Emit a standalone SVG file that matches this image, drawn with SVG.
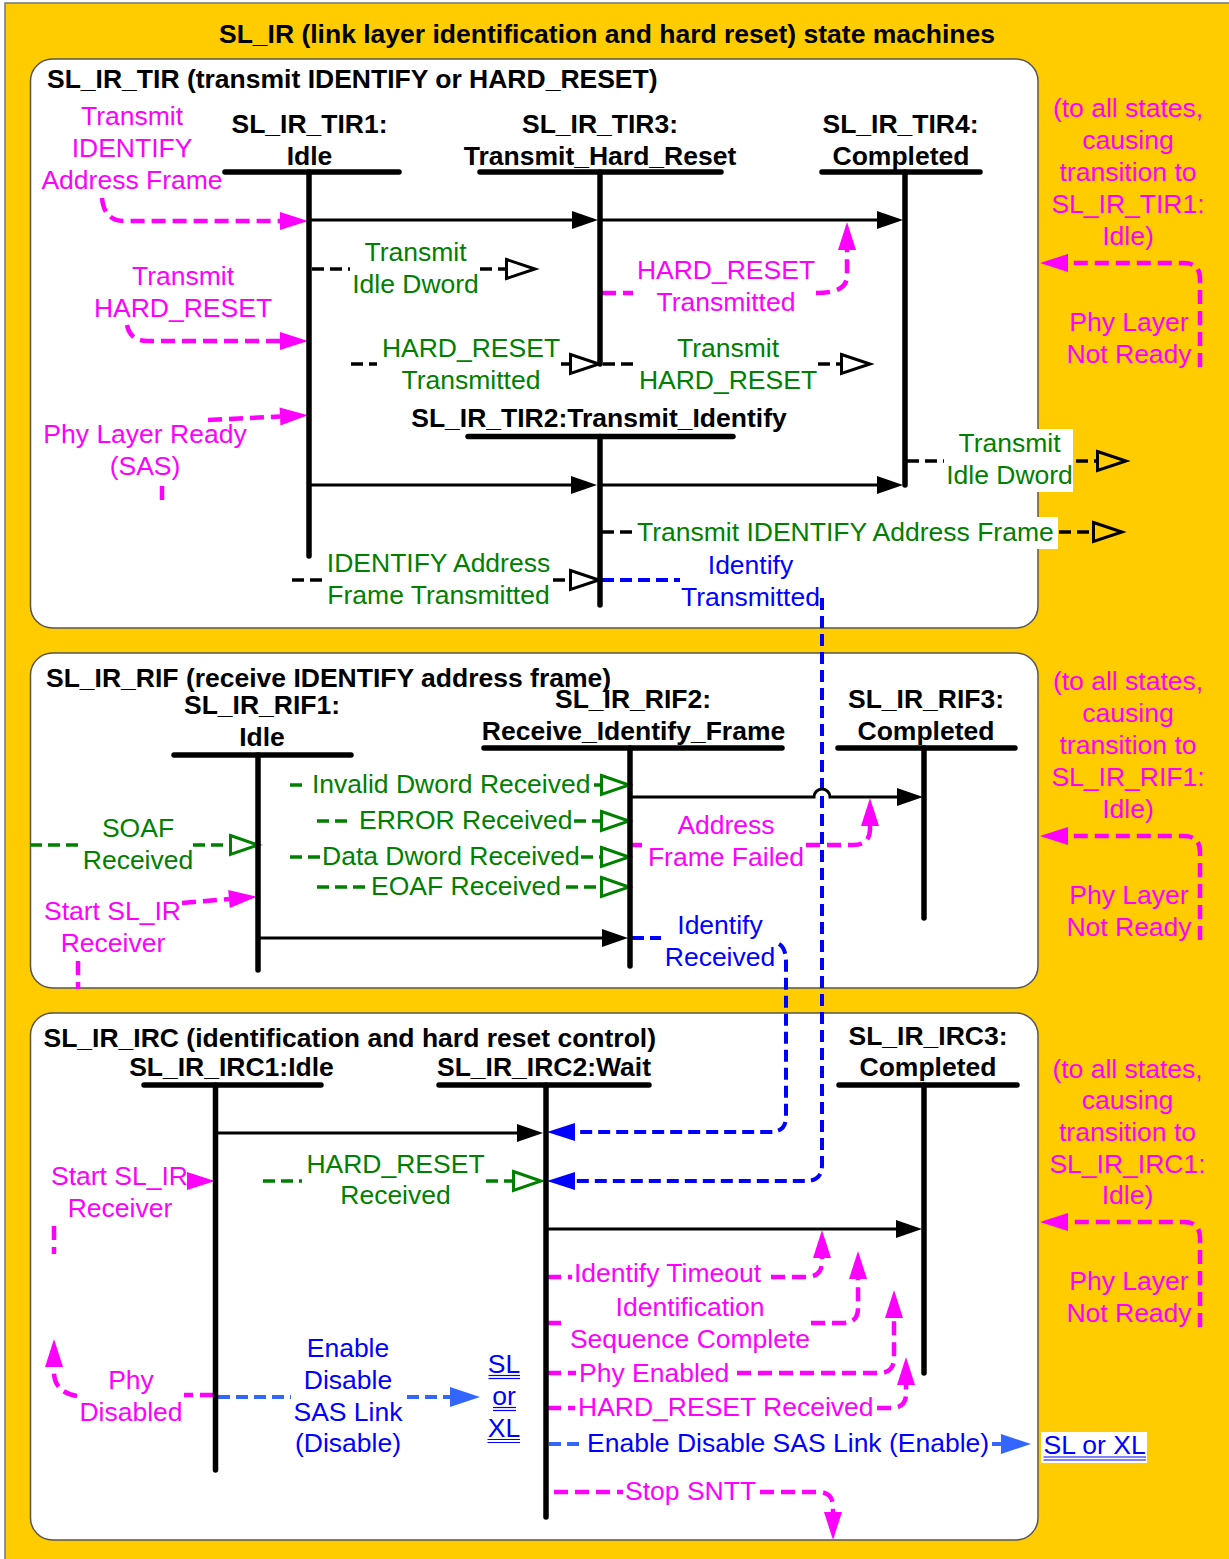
<svg xmlns="http://www.w3.org/2000/svg" width="1229" height="1559" viewBox="0 0 1229 1559">
<defs>
<style>
.t{font-family:"Liberation Sans",Arial,sans-serif;font-size:26.5px}
.b{font-weight:bold;fill:#000}
.m{fill:#FF00FF}
.g{fill:#008000}
.u{fill:#0000FF}
.c{text-anchor:middle}
.bar{stroke:#000;stroke-width:5.5;stroke-linecap:round;fill:none}
.tr{stroke:#000;stroke-width:3;fill:none}
.dm{stroke:#FF00FF;stroke-width:4.5;stroke-dasharray:14 7;fill:none}
.dk{stroke:#000;stroke-width:3.5;stroke-dasharray:12 6;fill:none}
.dg{stroke:#008000;stroke-width:3.5;stroke-dasharray:12 6;fill:none}
.db{stroke:#0000FF;stroke-width:4;stroke-dasharray:12 6;fill:none}
.dl{stroke:#3366FF;stroke-width:4;stroke-dasharray:12 6;fill:none}
.ul{stroke:#0000FF;stroke-width:1.2}
.panel{fill:#fff;stroke:#555;stroke-width:1.5}
</style>
<marker id="aBlk" markerUnits="userSpaceOnUse" markerWidth="30" markerHeight="20" refX="0" refY="9" orient="auto" overflow="visible"><path d="M0,0 L26,9 L0,18 Z" fill="#000"/></marker>
<marker id="aMag" markerUnits="userSpaceOnUse" markerWidth="30" markerHeight="20" refX="0" refY="9" orient="auto" overflow="visible"><path d="M0,0 L28,9 L0,18 Z" fill="#FF00FF"/></marker>
<marker id="aBlu" markerUnits="userSpaceOnUse" markerWidth="30" markerHeight="20" refX="0" refY="9" orient="auto" overflow="visible"><path d="M0,0 L28,9 L0,18 Z" fill="#0000FF"/></marker>
<marker id="aLBlu" markerUnits="userSpaceOnUse" markerWidth="32" markerHeight="22" refX="0" refY="10" orient="auto" overflow="visible"><path d="M0,0 L30,10 L0,20 Z" fill="#3366FF"/></marker>
<marker id="oBlk" markerUnits="userSpaceOnUse" markerWidth="32" markerHeight="22" refX="0" refY="10" orient="auto" overflow="visible"><path d="M1.5,0.5 L30,10 L1.5,19.5 Z" fill="none" stroke="#000" stroke-width="3"/></marker>
<marker id="oGrn" markerUnits="userSpaceOnUse" markerWidth="32" markerHeight="22" refX="0" refY="10" orient="auto" overflow="visible"><path d="M1.5,0.5 L29,10 L1.5,19.5 Z" fill="none" stroke="#008000" stroke-width="3"/></marker>
</defs>

<rect x="5" y="3" width="1230" height="1560" fill="#FFCC00" stroke="#777" stroke-width="1.5"/>
<text class="t b c" x="607" y="43">SL_IR (link layer identification and hard reset) state machines</text>

<g id="panels">
<rect class="panel" x="30.5" y="59" width="1007.5" height="569" rx="22"/>
<rect class="panel" x="30.5" y="653" width="1007.5" height="335" rx="22"/>
<rect class="panel" x="30.5" y="1013" width="1007.5" height="527" rx="22"/>
<text class="t b" x="47" y="88">SL_IR_TIR (transmit IDENTIFY or HARD_RESET)</text>
<text class="t b" x="46" y="687">SL_IR_RIF (receive IDENTIFY address frame)</text>
<text class="t b" x="43.5" y="1047">SL_IR_IRC (identification and hard reset control)</text>
</g>

<g id="connectors">
<!-- TIR transitions -->
<path class="tr" d="M311,220 L572,220" marker-end="url(#aBlk)"/>
<path class="tr" d="M602,220 L877,220" marker-end="url(#aBlk)"/>
<path class="tr" d="M311,485 L571,485" marker-end="url(#aBlk)"/>
<path class="tr" d="M602,485 L877,485" marker-end="url(#aBlk)"/>
<!-- TIR magenta inputs -->
<path class="dm" d="M102,198 Q104,221 125,221 L280,221" marker-end="url(#aMag)"/>
<path class="dm" d="M127,325 Q130,341 148,341 L280,341" marker-end="url(#aMag)"/>
<path class="dm" d="M208,420 L280,416.5" marker-end="url(#aMag)"/>
<path class="dm" d="M162,486 L162,503"/>
<path class="dm" d="M602,293 L633,293 M816,293 Q847,293 847,276 L847,250" marker-end="url(#aMag)"/>
<path class="dm" d="M1200,367 L1200,279 Q1200,263 1184,263 L1068,263" marker-end="url(#aMag)"/>
<!-- TIR outputs -->
<path class="dk" d="M312,269 L350,269 M480,269 L505,269" marker-end="url(#oBlk)"/>
<path class="dk" d="M351,364 L377,364 M561,364 L569,364" marker-end="url(#oBlk)"/>
<path class="dk" d="M603,364 L634,364 M818,364 L840,364" marker-end="url(#oBlk)"/>
<path class="dk" d="M907,461 L944,461 M1076,461 L1096,461" marker-end="url(#oBlk)"/>
<path class="dk" d="M602,532 L633,532 M1059,532 L1092,532" marker-end="url(#oBlk)"/>
<path class="dk" d="M292,580 L325,580 M553,580 L569,580" marker-end="url(#oBlk)"/>
<!-- blue cross-panel -->
<path class="db" d="M602,580 L680,580 M822,598 L822,1165 Q822,1181 806,1181 L575,1181" marker-end="url(#aBlu)"/>
<path class="db" d="M632,938 L661,938 M779,944 Q786,948 786,962 L786,1117 Q786,1132 770,1132 L575,1132" marker-end="url(#aBlu)"/>
<!-- RIF transitions -->
<path class="tr" d="M260,938 L602,938" marker-end="url(#aBlk)"/>
<path class="tr" d="M632,797 L814,797 A8,8 0 0 1 830,797 L897,797" marker-end="url(#aBlk)"/>
<!-- RIF green inputs -->
<path class="dg" d="M30,845 L80,845 M193,845 L229,845" marker-end="url(#oGrn)"/>
<path class="dg" d="M290,785 L303,785 M594,785 L600,785" marker-end="url(#oGrn)"/>
<path class="dg" d="M317,821 L352,821 M574,821 L600,821" marker-end="url(#oGrn)"/>
<path class="dg" d="M290,857 L320,857 M581,857 L600,857" marker-end="url(#oGrn)"/>
<path class="dg" d="M317,887 L367,887 M566,887 L600,887" marker-end="url(#oGrn)"/>
<!-- RIF magenta -->
<path class="dm" d="M182,903 L229,899" marker-end="url(#aMag)"/>
<path class="dm" d="M78,961 L78,989"/>
<path class="dm" d="M632,845 L642,845 M806,845 L853,845 Q870,845 870,829 L870,826" marker-end="url(#aMag)"/>
<path class="dm" d="M1200,940 L1200,852 Q1200,836 1184,836 L1068,836" marker-end="url(#aMag)"/>
<!-- IRC transitions -->
<path class="tr" d="M217,1133 L517,1133" marker-end="url(#aBlk)"/>
<path class="tr" d="M548,1229 L896,1229" marker-end="url(#aBlk)"/>
<path class="dg" d="M263,1181 L302,1181 M486,1181 L512,1181" marker-end="url(#oGrn)"/>
<!-- IRC magenta -->
<path d="M185,1181 L187,1181" stroke="none" fill="none" marker-end="url(#aMag)"/>
<path class="dm" d="M54,1226 L54,1254"/>
<path class="dm" d="M214,1395 L184,1395 M77,1396 Q54,1392 54,1372 L54,1367" marker-end="url(#aMag)"/>
<path class="dm" d="M547,1277 L572,1277 M771,1277 L806,1277 Q822,1277 822,1262 L822,1258" marker-end="url(#aMag)"/>
<path class="dm" d="M547,1323 L568,1323 M811,1323 L843,1323 Q858,1323 858,1308 L858,1279" marker-end="url(#aMag)"/>
<path class="dm" d="M547,1373 L576,1373 M737,1373 L879,1373 Q894,1373 894,1358 L894,1318" marker-end="url(#aMag)"/>
<path class="dm" d="M547,1408 L575,1408 M877,1408 L891,1408 Q906,1408 906,1394 L906,1385" marker-end="url(#aMag)"/>
<path class="dm" d="M554,1492 L623,1492 M760,1492 L818,1492 Q833,1492 833,1507 L833,1512" marker-end="url(#aMag)"/>
<path class="dm" d="M1200,1327 L1200,1238 Q1200,1222 1184,1222 L1068,1222" marker-end="url(#aMag)"/>
<!-- IRC light blue -->
<path class="dl" d="M218,1397 L291,1397 M407,1397 L450,1397" marker-end="url(#aLBlu)"/>
<path class="dl" d="M549,1444 L584,1444 M992,1444 L1001,1444" marker-end="url(#aLBlu)"/>
</g>

<g id="TIR1">
<line class="bar" x1="225" y1="172" x2="399" y2="172"/>
<line class="bar" x1="309" y1="172" x2="309" y2="556"/>
<text class="t b c" x="309.5" y="133">SL_IR_TIR1:</text>
<text class="t b c" x="309.5" y="165">Idle</text>
</g>
<g id="TIR3">
<line class="bar" x1="480" y1="172" x2="721" y2="172"/>
<line class="bar" x1="600" y1="172" x2="600" y2="364"/>
<text class="t b c" x="600" y="133">SL_IR_TIR3:</text>
<text class="t b c" x="600" y="165">Transmit_Hard_Reset</text>
</g>
<g id="TIR4">
<line class="bar" x1="822" y1="172" x2="980" y2="172"/>
<line class="bar" x1="905" y1="172" x2="905" y2="485"/>
<text class="t b c" x="900.5" y="133">SL_IR_TIR4:</text>
<text class="t b c" x="901" y="165">Completed</text>
</g>
<g id="TIR2">
<line class="bar" x1="468" y1="436.5" x2="733" y2="436.5"/>
<line class="bar" x1="600" y1="436.5" x2="600" y2="605"/>
<text class="t b c" x="599" y="427">SL_IR_TIR2:Transmit_Identify</text>
</g>

<g id="RIF1">
<line class="bar" x1="174" y1="755" x2="351" y2="755"/>
<line class="bar" x1="258" y1="755" x2="258" y2="970"/>
<text class="t b c" x="262" y="714">SL_IR_RIF1:</text>
<text class="t b c" x="262" y="746">Idle</text>
</g>
<g id="RIF2">
<line class="bar" x1="484" y1="748" x2="782" y2="748"/>
<line class="bar" x1="630" y1="748" x2="630" y2="966"/>
<text class="t b c" x="633" y="708">SL_IR_RIF2:</text>
<text class="t b c" x="633.5" y="740">Receive_Identify_Frame</text>
</g>
<g id="RIF3">
<line class="bar" x1="838" y1="748" x2="1015" y2="748"/>
<line class="bar" x1="924" y1="748" x2="924" y2="918"/>
<text class="t b c" x="926" y="708">SL_IR_RIF3:</text>
<text class="t b c" x="926" y="740">Completed</text>
</g>

<g id="IRC1">
<line class="bar" x1="144" y1="1085" x2="321" y2="1085"/>
<line class="bar" x1="215.5" y1="1085" x2="215.5" y2="1470"/>
<text class="t b c" x="231.5" y="1076">SL_IR_IRC1:Idle</text>
</g>
<g id="IRC2">
<line class="bar" x1="439" y1="1085" x2="649" y2="1085"/>
<line class="bar" x1="546" y1="1085" x2="546" y2="1517"/>
<text class="t b c" x="544" y="1076">SL_IR_IRC2:Wait</text>
</g>
<g id="IRC3">
<line class="bar" x1="839" y1="1085" x2="1017" y2="1085"/>
<line class="bar" x1="924" y1="1085" x2="924" y2="1373"/>
<text class="t b c" x="928" y="1045">SL_IR_IRC3:</text>
<text class="t b c" x="928" y="1076">Completed</text>
</g>

<g id="labels">
<!-- TIR -->
<text class="t m c" x="132" y="125">Transmit</text>
<text class="t m c" x="132" y="157">IDENTIFY</text>
<text class="t m c" x="132" y="189">Address Frame</text>
<text class="t m c" x="183" y="285">Transmit</text>
<text class="t m c" x="183" y="317">HARD_RESET</text>
<text class="t m c" x="145" y="443">Phy Layer Ready</text>
<text class="t m c" x="145" y="475">(SAS)</text>
<text class="t g c" x="415.5" y="261">Transmit</text>
<text class="t g c" x="415.5" y="293">Idle Dword</text>
<text class="t g c" x="471" y="357">HARD_RESET</text>
<text class="t g c" x="471" y="389">Transmitted</text>
<text class="t g c" x="728" y="357">Transmit</text>
<text class="t g c" x="728" y="389">HARD_RESET</text>
<text class="t m c" x="726" y="279">HARD_RESET</text>
<text class="t m c" x="726" y="311">Transmitted</text>
<rect x="945" y="429" width="128" height="63" fill="#fff"/>
<text class="t g c" x="1009.5" y="452">Transmit</text>
<text class="t g c" x="1009.5" y="484">Idle Dword</text>
<rect x="635" y="517" width="423" height="32" fill="#fff"/>
<text class="t g" x="637" y="541">Transmit IDENTIFY Address Frame</text>
<text class="t g c" x="438.5" y="572">IDENTIFY Address</text>
<text class="t g c" x="438.5" y="604">Frame Transmitted</text>
<text class="t u c" x="750.5" y="574">Identify</text>
<text class="t u c" x="750.5" y="606">Transmitted</text>
<text class="t m c" x="1128" y="117">(to all states,</text>
<text class="t m c" x="1128" y="149">causing</text>
<text class="t m c" x="1128" y="181">transition to</text>
<text class="t m c" x="1128" y="213">SL_IR_TIR1:</text>
<text class="t m c" x="1128" y="245">Idle)</text>
<text class="t m c" x="1129" y="331">Phy Layer</text>
<text class="t m c" x="1129" y="363">Not Ready</text>
<!-- RIF -->
<text class="t g" x="312" y="793">Invalid Dword Received</text>
<text class="t g" x="359" y="829">ERROR Received</text>
<text class="t g" x="322" y="865">Data Dword Received</text>
<text class="t g" x="371" y="895">EOAF Received</text>
<text class="t g c" x="138" y="837">SOAF</text>
<text class="t g c" x="138" y="869">Received</text>
<text class="t m" x="44" y="920">Start SL_IR</text>
<text class="t m c" x="113" y="952">Receiver</text>
<text class="t m c" x="726" y="834">Address</text>
<text class="t m c" x="726" y="866">Frame Failed</text>
<text class="t u c" x="720" y="934">Identify</text>
<text class="t u c" x="720" y="966">Received</text>
<text class="t m c" x="1128" y="690">(to all states,</text>
<text class="t m c" x="1128" y="722">causing</text>
<text class="t m c" x="1128" y="754">transition to</text>
<text class="t m c" x="1128" y="786">SL_IR_RIF1:</text>
<text class="t m c" x="1128" y="818">Idle)</text>
<text class="t m c" x="1129" y="904">Phy Layer</text>
<text class="t m c" x="1129" y="936">Not Ready</text>
<!-- IRC -->
<text class="t g c" x="395.5" y="1173">HARD_RESET</text>
<text class="t g c" x="395.5" y="1204">Received</text>
<text class="t m" x="51" y="1185">Start SL_IR</text>
<text class="t m c" x="120" y="1217">Receiver</text>
<text class="t m c" x="131" y="1389">Phy</text>
<text class="t m c" x="131" y="1421">Disabled</text>
<text class="t u c" x="348" y="1357">Enable</text>
<text class="t u c" x="348" y="1389">Disable</text>
<text class="t u c" x="348" y="1421">SAS Link</text>
<text class="t u c" x="348" y="1452">(Disable)</text>
<text class="t u c" x="504" y="1373">SL</text>
<text class="t u c" x="504" y="1405">or</text>
<text class="t u c" x="504" y="1437">XL</text>
<line class="ul" x1="488.5" y1="1375.5" x2="520" y2="1375.5"/>
<line class="ul" x1="488.5" y1="1378.5" x2="520" y2="1378.5"/>
<line class="ul" x1="493" y1="1407.5" x2="516" y2="1407.5"/>
<line class="ul" x1="493" y1="1410.5" x2="516" y2="1410.5"/>
<line class="ul" x1="487.5" y1="1439.5" x2="520" y2="1439.5"/>
<line class="ul" x1="487.5" y1="1442.5" x2="520" y2="1442.5"/>
<text class="t m" x="574" y="1282">Identify Timeout</text>
<text class="t m c" x="690" y="1316">Identification</text>
<text class="t m c" x="690" y="1348">Sequence Complete</text>
<text class="t m" x="579" y="1382">Phy Enabled</text>
<text class="t m" x="578" y="1416">HARD_RESET Received</text>
<text class="t u" x="587" y="1452">Enable Disable SAS Link (Enable)</text>
<rect x="1041" y="1432" width="106" height="31" fill="#fff"/>
<text class="t u" x="1043.5" y="1454">SL or XL</text>
<line class="ul" x1="1043.5" y1="1457" x2="1146" y2="1457"/>
<line class="ul" x1="1043.5" y1="1460" x2="1146" y2="1460"/>
<text class="t m" x="625" y="1500">Stop SNTT</text>
<text class="t m c" x="1127.5" y="1078">(to all states,</text>
<text class="t m c" x="1127.5" y="1109">causing</text>
<text class="t m c" x="1127.5" y="1141">transition to</text>
<text class="t m c" x="1127.5" y="1173">SL_IR_IRC1:</text>
<text class="t m c" x="1127.5" y="1204">Idle)</text>
<text class="t m c" x="1129" y="1290">Phy Layer</text>
<text class="t m c" x="1129" y="1322">Not Ready</text>
</g>
</svg>
